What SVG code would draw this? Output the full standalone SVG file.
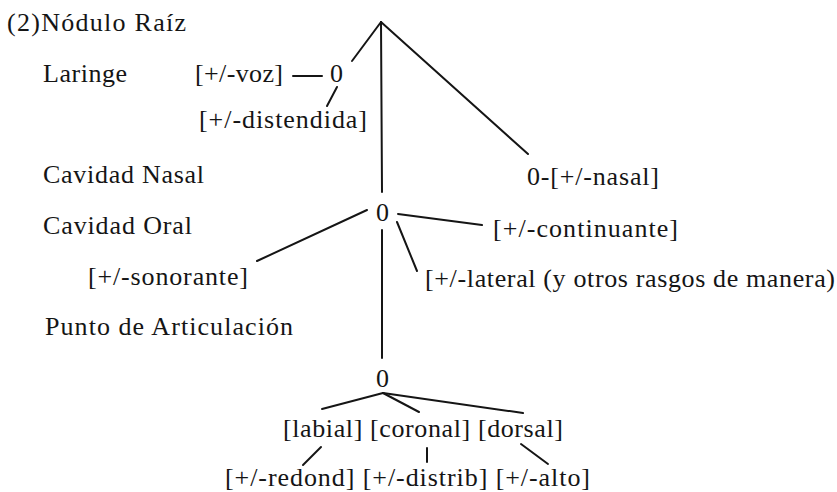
<svg xmlns="http://www.w3.org/2000/svg" width="837" height="492" viewBox="0 0 837 492">
<style>
text{font-family:"Liberation Serif","Times New Roman",serif;font-size:26px;fill:#151515}
.c line{stroke:#151515;stroke-width:2;stroke-linecap:round}
</style>
<rect width="837" height="492" fill="#fff"/>
<g id="labels">
<text x="7" y="31" textLength="179">(2)Nódulo Raíz</text>
<text x="43" y="82" textLength="84">Laringe</text>
<text x="43" y="183" textLength="161">Cavidad Nasal</text>
<text x="43" y="234" textLength="149">Cavidad Oral</text>
<text x="45" y="335" textLength="248">Punto de Articulación</text>
</g>
<g class="c" id="connectors">
<line x1="381" y1="22" x2="352" y2="61"/>
<line x1="381" y1="22" x2="382" y2="192"/>
<line x1="381" y1="22" x2="528" y2="154"/>
<line x1="293" y1="76" x2="322" y2="76"/>
<line x1="337" y1="87" x2="327" y2="106"/>
<line x1="367" y1="210" x2="257" y2="261"/>
<line x1="398" y1="214" x2="482" y2="225"/>
<line x1="397" y1="222" x2="417" y2="271"/>
<line x1="382" y1="230" x2="382" y2="358"/>
<line x1="383" y1="393" x2="322" y2="409"/>
<line x1="383" y1="393" x2="419" y2="412"/>
<line x1="383" y1="393" x2="523" y2="413"/>
<line x1="321" y1="447" x2="303" y2="465"/>
<line x1="427" y1="448" x2="427" y2="462"/>
<line x1="521" y1="444" x2="548" y2="464"/>
</g>
<g id="laringe">
<text x="195" y="82" textLength="88">[+/-voz]</text>
<text x="330" y="82">0</text>
<text x="199" y="128" textLength="168">[+/-distendida]</text>
</g>
<g id="nasal">
<text x="527" y="185" textLength="132">0-[+/-nasal]</text>
</g>
<g id="oral">
<text x="376" y="221">0</text>
<text x="493" y="237" textLength="185">[+/-continuante]</text>
<text x="88" y="285" textLength="160">[+/-sonorante]</text>
<text x="425" y="287" textLength="410">[+/-lateral (y otros rasgos de manera)</text>
</g>
<g id="punto">
<text x="376" y="387">0</text>
<text x="283" y="437" textLength="280">[labial] [coronal] [dorsal]</text>
<text x="225" y="486" textLength="365">[+/-redond] [+/-distrib] [+/-alto]</text>
</g>
</svg>
